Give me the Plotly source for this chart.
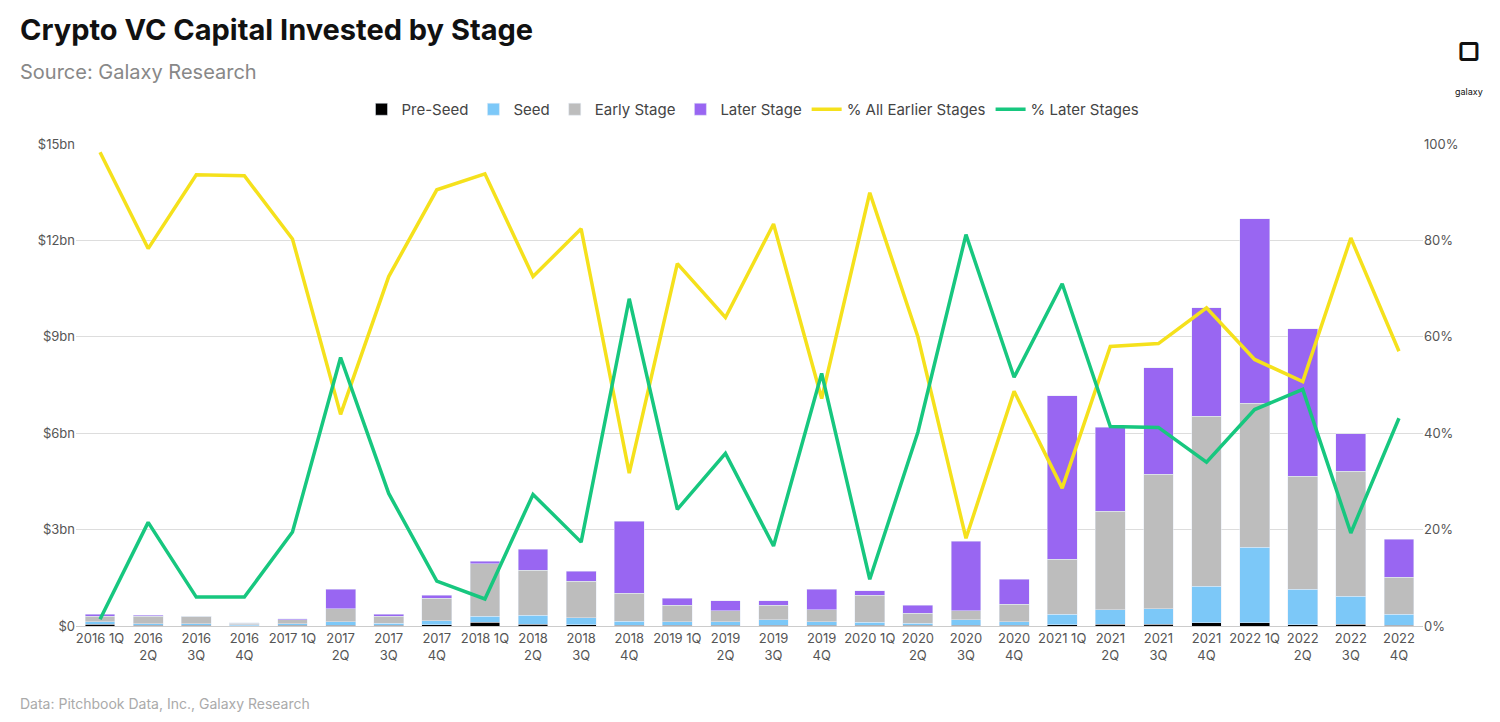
import plotly.graph_objects as go

quarters = []
for yr in range(2016, 2023):
    for q in range(1, 5):
        quarters.append(f"{yr} {q}Q")
tick_text = [q if q.endswith("1Q") else q.replace(" ", "<br>") for q in quarters]

# $bn per stage
pre_seed = [0.05, 0.02, 0.02, 0.01, 0.02, 0.03, 0.03, 0.04, 0.12, 0.05, 0.04, 0.03, 0.03, 0.03, 0.03, 0.03,
            0.03, 0.02, 0.03, 0.03, 0.04, 0.06, 0.05, 0.10, 0.10, 0.04, 0.06, 0.02]
seed = [0.08, 0.05, 0.05, 0.03, 0.05, 0.10, 0.05, 0.12, 0.18, 0.29, 0.21, 0.12, 0.10, 0.10, 0.16, 0.10,
        0.09, 0.07, 0.16, 0.10, 0.33, 0.44, 0.48, 1.14, 2.35, 1.11, 0.87, 0.35]
early = [0.18, 0.23, 0.24, 0.04, 0.12, 0.40, 0.22, 0.71, 1.63, 1.40, 1.15, 0.87, 0.52, 0.34, 0.46, 0.37,
         0.84, 0.31, 0.28, 0.55, 1.71, 3.07, 4.19, 5.28, 4.48, 3.51, 3.88, 1.15]
later = [0.06, 0.04, 0.00, 0.02, 0.03, 0.62, 0.07, 0.09, 0.09, 0.65, 0.31, 2.24, 0.22, 0.31, 0.13, 0.65,
         0.13, 0.25, 2.17, 0.78, 5.09, 2.61, 3.32, 3.38, 5.74, 4.59, 1.18, 1.18]

pct_earlier = [98.3, 78.3, 93.6, 93.4, 80.3, 43.9, 72.5, 90.5, 93.8, 72.5, 82.4, 31.7, 75.2, 64.0, 83.4, 47.2,
               89.9, 60.0, 18.2, 48.7, 28.6, 58.0, 58.6, 66.0, 55.3, 50.7, 80.5, 57.0]
pct_later = [1.4, 21.5, 6.0, 6.0, 19.5, 55.7, 27.5, 9.3, 5.6, 27.3, 17.4, 67.9, 24.2, 35.8, 16.6, 52.4,
             9.7, 40.2, 81.2, 51.6, 71.0, 41.4, 41.2, 34.0, 44.9, 49.1, 19.3, 43.1]

W, H = 1500, 722
L, R, T, B = 68, 85, 136, 104
pw, ph = W - L - R, H - T - B


def px(x, y):
    # pixel position in the page -> paper coords
    return (x - L) / pw, 1 - (y - T) / ph


fig = go.Figure()
for name, vals, col in [("Pre-Seed", pre_seed, "#000000"), ("Seed", seed, "#7cc8f8"),
                        ("Early Stage", early, "#bdbdbd"), ("Later Stage", later, "#9966f2")]:
    fig.add_trace(go.Bar(x=quarters, y=vals, name=name, marker_color=col, width=0.62))
for name, vals, col in [("% All Earlier Stages", pct_earlier, "#f5e11c"), ("% Later Stages", pct_later, "#17c77f")]:
    fig.add_trace(go.Scatter(x=quarters, y=vals, name=name, mode="lines", yaxis="y2",
                             line=dict(color=col, width=3.5)))

sx, sy = px(10, 50)
dx, dy = px(10, 706)
gx, gy = px(1461, 26)
lx, ly = px(745, 118)

fig.update_layout(
    width=W, height=H, barmode="stack", plot_bgcolor="white", paper_bgcolor="white",
    font=dict(family="Inter, Roboto, sans-serif", size=13, color="#555"),
    margin=dict(l=L, r=R, t=T, b=B, autoexpand=False),
    title=dict(text="<b>Crypto VC Capital Invested by Stage</b>",
               x=12 / W, xref="container", y=1 - 12 / H, yref="container", xanchor="left", yanchor="top",
               font=dict(size=29, color="#111")),
    legend=dict(orientation="h", traceorder="normal", x=lx, xanchor="center", y=ly, yanchor="bottom",
                font=dict(size=15, color="#444")),
    xaxis=dict(tickmode="array", tickvals=quarters, ticktext=tick_text, tickfont=dict(size=13),
               showline=True, linecolor="#ccc"),
    yaxis=dict(range=[0, 15], tickvals=[0, 3, 6, 9, 12, 15],
               ticktext=["$0", "$3bn", "$6bn", "$9bn", "$12bn", "$15bn"], gridcolor="#ddd", zeroline=False),
    yaxis2=dict(range=[0, 100], overlaying="y", side="right", tickvals=[0, 20, 40, 60, 80, 100],
                ticktext=["0%", "20%", "40%", "60%", "80%", "100%"], showgrid=False, zeroline=False),
    annotations=[
        dict(text="Source: Galaxy Research", x=sx, y=sy, xref="paper", yref="paper",
             xanchor="left", yanchor="top", showarrow=False, font=dict(size=20, color="#888")),
        dict(text="Data: Pitchbook Data, Inc., Galaxy Research", x=dx, y=dy, xref="paper", yref="paper",
             xanchor="left", yanchor="bottom", showarrow=False, font=dict(size=14, color="#aaa")),
        dict(text="<b>▢</b><br><span style='font-size:9px'>galaxy</span>", x=gx, y=gy,
             xref="paper", yref="paper", xanchor="center", yanchor="top", showarrow=False,
             font=dict(size=26, color="#111")),
    ],
)
fig.write_html("out.html")
